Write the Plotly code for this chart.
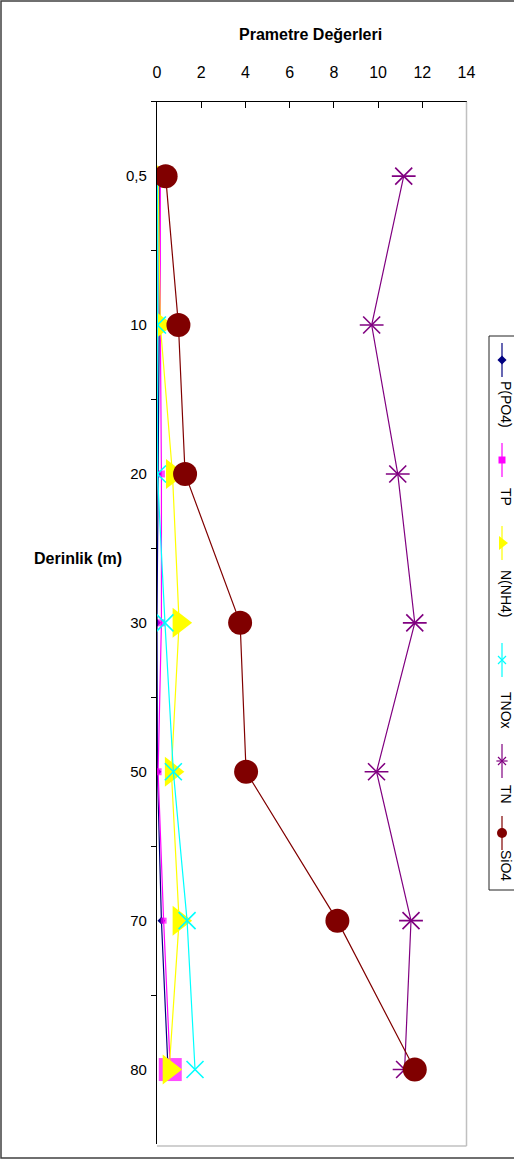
import plotly.graph_objects as go

# ---------------- data ----------------
depths = ["0,5", "10", "20", "30", "50", "70", "80"]
p_po4 = [0.10, 0.10, 0.05, 0.00, 0.02, 0.20, 0.50]
tp = [0.15, 0.15, 0.20, 0.20, 0.05, 0.30, 0.60]
n_nh4 = [0.05, 0.15, 0.70, 1.00, 0.65, 1.00, 0.55]
tnox = [0.02, 0.02, 0.02, 0.36, 0.74, 1.36, 1.72]
tn = [11.16, 9.71, 10.89, 11.66, 9.93, 11.49, 11.20]
sio4 = [0.39, 0.97, 1.27, 3.76, 4.03, 8.16, 11.66]
x_ticks = [0, 2, 4, 6, 8, 10, 12, 14]
series_names = ["P(PO4)", "TP", "N(NH4)", "TNOx", "TN", "SiO4"]

# ---------------- styles ----------------
W, H = 514, 1160
FONT = "Liberation Sans, Arial, sans-serif"
colors = ["#000080", "#FF00FF", "#FFFF00", "#00FFFF", "#800080", "#800000"]
symbols = ["diamond", "square", "triangle-right", "x-thin-open", "x-thin-open", "circle"]
msizes = [6, [7, 7, 7, 7, 7, 6, 23], 26, 17, 17, 24]
mlinew = [0, 0, 0, 1.6, 1.6, 0]
legend_msizes = [7, 7, 12, 8, 8, 10]

# plot area in pixels
PX_L, PX_R = 157, 466.5
PX_T, PX_B = 101.7, 1144

def px(x):
    return x / W

def py(y):
    return 1 - y / H

values = [p_po4, tp, n_nh4, tnox, tn, sio4]

fig = go.Figure()
for i, (name, vals) in enumerate(zip(series_names, values)):
    fig.add_trace(go.Scatter(
        x=vals, y=depths, name=name, mode="lines+markers",
        line=dict(color=colors[i], width=1.2),
        marker=dict(symbol=symbols[i], size=msizes[i], color=colors[i],
                    line=dict(color=colors[i], width=mlinew[i])),
        showlegend=False, xaxis="x", yaxis="y",
    ))
    if name == "TN":
        fig.add_trace(go.Scatter(
            x=vals, y=depths, mode="markers", showlegend=False,
            marker=dict(symbol="line-ew-open", size=17, color=colors[i],
                        line=dict(color=colors[i], width=1.6)),
            xaxis="x", yaxis="y", hoverinfo="skip",
        ))

# ---------------- custom vertical legend (own small subplot) ----------------
LEG_L, LEG_R, LEG_T, LEG_B = 489, 514, 336, 890
leg_marker_y = [360, 460, 543, 660, 761, 833]
leg_text_y = [404, 497, 593, 710, 794, 865]
leg_x_line = 502
leg_x_text = 506
for i, name in enumerate(series_names):
    cy = leg_marker_y[i]
    fig.add_trace(go.Scatter(
        x=[leg_x_line, leg_x_line], y=[cy - 17, cy + 17], mode="lines",
        line=dict(color=colors[i], width=1.2), showlegend=False,
        xaxis="x2", yaxis="y2", hoverinfo="skip"))
    fig.add_trace(go.Scatter(
        x=[leg_x_line], y=[cy], mode="markers", showlegend=False,
        marker=dict(symbol=symbols[i], size=legend_msizes[i], color=colors[i],
                    line=dict(color=colors[i], width=1.2 if mlinew[i] else 0)),
        xaxis="x2", yaxis="y2", hoverinfo="skip"))
    if name == "TN":
        fig.add_trace(go.Scatter(
            x=[leg_x_line], y=[cy], mode="markers", showlegend=False,
            marker=dict(symbol="line-ew-open", size=legend_msizes[i], color=colors[i],
                        line=dict(color=colors[i], width=1.2)),
            xaxis="x2", yaxis="y2", hoverinfo="skip"))

annotations = []
for i, name in enumerate(series_names):
    annotations.append(dict(
        x=px(leg_x_text), y=py(leg_text_y[i]), xref="paper", yref="paper", text=name,
        textangle=90, showarrow=False, xanchor="center", yanchor="middle",
        font=dict(family=FONT, size=14, color="black")))

annotations.append(dict(
    x=px(310), y=py(35), xref="paper", yref="paper", text="<b>Prametre Değerleri</b>",
    showarrow=False, xanchor="center", yanchor="middle",
    font=dict(family=FONT, size=16, color="black")))
annotations.append(dict(
    x=px(78), y=py(558), xref="paper", yref="paper", text="<b>Derinlik (m)</b>",
    showarrow=False, xanchor="center", yanchor="middle",
    font=dict(family=FONT, size=16, color="black")))

shapes = [
    # plot-area gray border (right & bottom)
    dict(type="line", xref="paper", yref="paper", x0=px(PX_R), x1=px(PX_R),
         y0=py(PX_T), y1=py(1146), line=dict(color="#C0C0C0", width=1.5)),
    dict(type="line", xref="paper", yref="paper", x0=px(PX_L), x1=px(PX_R),
         y0=py(1146), y1=py(1146), line=dict(color="#C0C0C0", width=1.5)),
    # legend box (open on the right, cut by the page edge)
    dict(type="path", xref="paper", yref="paper",
         path=(f"M {px(560)},{py(LEG_T)} L {px(LEG_L)},{py(LEG_T)} "
               f"L {px(LEG_L)},{py(LEG_B)} L {px(560)},{py(LEG_B)}"),
         line=dict(color="#222222", width=1)),
    # outer chart border (left, top, bottom)
    dict(type="path", xref="paper", yref="paper",
         path=(f"M {px(560)},{py(1)} L {px(1)},{py(1)} "
               f"L {px(1)},{py(1158)} L {px(560)},{py(1158)}"),
         line=dict(color="#404040", width=1.5)),
]

fig.update_layout(
    template="none",
    width=W, height=H, margin=dict(l=0, r=0, t=0, b=0, pad=0),
    paper_bgcolor="white", plot_bgcolor="rgba(0,0,0,0)",
    showlegend=False,
    xaxis=dict(
        domain=[px(PX_L), px(PX_R)], anchor="y", side="top",
        range=[0, 14], tickvals=x_ticks, ticktext=[str(t) for t in x_ticks],
        showgrid=False, zeroline=False, automargin=False,
        showline=True, linecolor="black", linewidth=1.2,
        ticks="inside", ticklen=6, tickcolor="black", tickwidth=1,
        ticklabelstandoff=16,
        tickfont=dict(family=FONT, size=16, color="black"),
    ),
    yaxis=dict(
        domain=[py(PX_B), py(PX_T)], anchor="x",
        type="category", categoryorder="array", categoryarray=depths,
        range=[6.5, -0.5],
        showgrid=False, zeroline=False, automargin=False,
        showline=True, linecolor="black", linewidth=1.2,
        ticks="outside", ticklen=5, tickcolor="black", tickson="boundaries",
        ticklabelstandoff=6,
        tickfont=dict(family=FONT, size=15, color="black"),
    ),
    xaxis2=dict(domain=[px(LEG_L), px(LEG_R)], range=[LEG_L, LEG_R], visible=False,
                anchor="y2", fixedrange=True, automargin=False),
    yaxis2=dict(domain=[py(LEG_B), py(LEG_T)], range=[LEG_B, LEG_T], visible=False,
                anchor="x2", fixedrange=True, automargin=False),
    annotations=annotations,
    shapes=shapes,
)

fig.write_html("out.html", config={"displayModeBar": False},
               post_script="document.body.style.margin='0';document.body.style.overflow='hidden';")
